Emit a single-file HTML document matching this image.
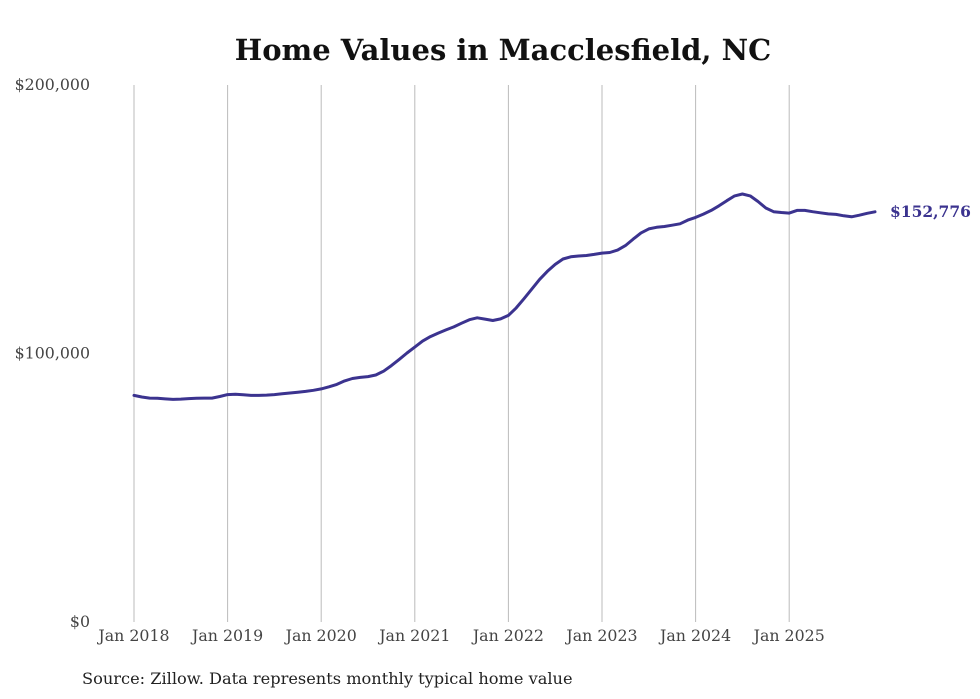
<!DOCTYPE html>
<html><head><meta charset="utf-8"><style>
html,body{margin:0;padding:0;background:#fff;}
svg{display:block;}
text{font-family:"DejaVu Serif","Liberation Serif",serif;}
</style></head><body>
<svg id="chart" width="980" height="699" viewBox="0 0 980 699" xmlns="http://www.w3.org/2000/svg">
<rect width="980" height="699" fill="#fff"/>
<text x="503" y="60" text-anchor="middle" font-size="29" font-weight="bold" fill="#111">Home Values in Macclesfield, NC</text>
<g id="grid"></g><g id="yaxis"></g><g id="xaxis"></g><g id="series"></g>
<text x="82" y="684" font-size="16.2" fill="#222">Source: Zillow. Data represents monthly typical home value</text>
</svg>
<script>
const yearLabels = ["Jan 2018","Jan 2019","Jan 2020","Jan 2021","Jan 2022","Jan 2023","Jan 2024","Jan 2025"];
const yTicks = [0,100000,200000];
const yTickLabels = ["$0","$100,000","$200,000"];
const values = [
84.4,83.8,83.4,83.3,83.1,82.9,83.0,83.2,83.3,83.4,83.4,84.0,
84.7,84.8,84.6,84.4,84.4,84.5,84.7,85.0,85.3,85.6,85.9,86.3,
86.8,87.6,88.5,89.8,90.7,91.1,91.4,92.0,93.4,95.5,97.8,100.2,
102.4,104.6,106.3,107.6,108.8,109.9,111.3,112.6,113.3,112.8,112.3,112.9,
114.2,117.0,120.4,124.0,127.6,130.6,133.2,135.2,136.0,136.3,136.5,136.9,
137.4,137.6,138.5,140.2,142.6,144.9,146.4,147.0,147.3,147.8,148.3,149.7,
150.7,151.9,153.3,155.0,156.9,158.7,159.4,158.7,156.6,154.2,152.8,152.5,
152.3,153.3,153.3,152.8,152.4,152.0,151.8,151.3,150.9,151.5,152.2,152.776
];
const lastLabel = "$152,776";

const NS="http://www.w3.org/2000/svg";
const x0=134, monthPx=93.6/12, yBase=622, yTop=85;
const xScale=m=>x0+m*monthPx;
const yScale=v=>yBase-(v/200000)*(yBase-yTop);
function mk(tag,attrs,parent){const e=document.createElementNS(NS,tag);for(const k in attrs)e.setAttribute(k,attrs[k]);parent.appendChild(e);return e;}
const grid=document.getElementById('grid'),xa=document.getElementById('xaxis'),ya=document.getElementById('yaxis'),se=document.getElementById('series');
yearLabels.forEach((lab,i)=>{
  const x=xScale(i*12);
  const l=mk('line',{x1:x,x2:x,y1:yTop,y2:yBase,stroke:'#bbb','stroke-width':1},grid);
  
  
  const t=mk('text',{x:x,y:641,'text-anchor':'middle','font-size':15.8,fill:'#444'},xa);
  t.textContent=lab;
  
  
});
yTicks.forEach((v,i)=>{
  const t=mk('text',{x:90,y:yScale(v)+5,'text-anchor':'end','font-size':15.8,fill:'#444'},ya);
  t.textContent=yTickLabels[i];
  
  
});
const d=values.map((v,i)=>(i?'L':'M')+xScale(i).toFixed(1)+','+yScale(v*1000).toFixed(1)).join('');
const p=mk('path',{d:d,fill:'none',stroke:'#3b338f','stroke-width':3,'stroke-linejoin':'round','stroke-linecap':'round'},se);


const li=values.length-1;
const lt=mk('text',{x:xScale(li)+15,y:yScale(values[li]*1000)+5,'font-size':15.5,'font-weight':'bold',fill:'#3b338f'},se);
lt.textContent=lastLabel;


</script>
</body></html>
